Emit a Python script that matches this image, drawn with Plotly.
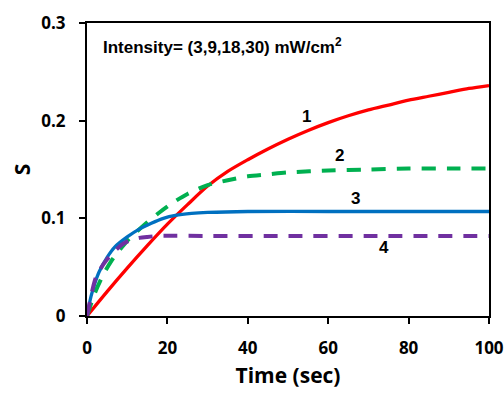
import plotly.graph_objects as go

# Curve 1 (red, solid)
t1 = [0, 5, 10, 15, 20, 25, 30, 35, 40, 45, 50, 55, 60, 65, 70, 75, 80, 85, 90, 95, 100]
s1 = [0, 0.025, 0.049, 0.072, 0.094, 0.114, 0.133, 0.148, 0.160, 0.171, 0.181, 0.190, 0.198,
      0.205, 0.211, 0.216, 0.221, 0.225, 0.229, 0.233, 0.236]
# Curve 2 (green, dashed)
t2 = [0, 2, 4, 6, 8, 10, 12, 15, 18, 21, 25, 30, 35, 40, 45, 50, 60, 70, 80, 90, 100]
s2 = [0, 0.024, 0.042, 0.056, 0.067, 0.077, 0.085, 0.096, 0.106, 0.115, 0.125, 0.134, 0.139,
      0.143, 0.145, 0.147, 0.149, 0.150, 0.151, 0.151, 0.151]
# Curve 3 (blue, solid)
t3 = [0, 1, 2, 3, 5, 7, 10, 13, 16, 19, 22, 26, 30, 40, 60, 80, 100]
s3 = [0, 0.020, 0.034, 0.045, 0.060, 0.071, 0.081, 0.089, 0.095, 0.100, 0.103, 0.105, 0.106,
      0.107, 0.107, 0.107, 0.107]
# Curve 4 (purple, dashed)
t4 = [0, 1, 2, 3, 5, 7, 9, 11, 13, 15, 18, 30, 50, 70, 100]
s4 = [0, 0.020, 0.037, 0.046, 0.058, 0.067, 0.074, 0.078, 0.080, 0.081, 0.082, 0.082, 0.082,
      0.082, 0.082]

curve_labels = ["1", "2", "3", "4"]
label_t = [54.6, 62.7, 66.7, 73.9]
label_s = [0.204, 0.164, 0.120, 0.070]

x_ticks = [0, 20, 40, 60, 80, 100]
y_ticks = [0, 0.1, 0.2, 0.3]
y_tick_text = ["0", "0.1", "0.2", "0.3"]

fig = go.Figure()
fig.add_trace(go.Scatter(x=t1, y=s1, mode="lines",
                         line=dict(color="#FF0000", width=3.3, shape="spline", smoothing=0.8)))
fig.add_trace(go.Scatter(x=t2, y=s2, mode="lines",
                         line=dict(color="#00B050", width=4, dash="14px,11px", shape="spline", smoothing=0.8)))
fig.add_trace(go.Scatter(x=t3, y=s3, mode="lines",
                         line=dict(color="#0070C0", width=3.3, shape="spline", smoothing=0.8)))
fig.add_trace(go.Scatter(x=t4, y=s4, mode="lines",
                         line=dict(color="#7030A0", width=4, dash="14px,11px", shape="spline", smoothing=0.8)))

for lab, lt, ls in zip(curve_labels, label_t, label_s):
    fig.add_annotation(x=lt, y=ls, xref="x", yref="y", text="<b>%s</b>" % lab, showarrow=False,
                       font=dict(family="Liberation Sans", size=17, color="black"))

fig.add_annotation(x=0.035, y=0.92, xref="paper", yref="paper", xanchor="left", yanchor="middle",
                   text="<b>Intensity= (3,9,18,30) mW/cm<sup>2</sup></b>", showarrow=False,
                   font=dict(family="Liberation Sans", size=17, color="black"))

fig.update_layout(
    width=504, height=394,
    margin=dict(l=87, r=15, t=23, b=78, autoexpand=False),
    paper_bgcolor="white", plot_bgcolor="white",
    showlegend=False,
    font=dict(family="Open Sans", color="black"),
)
fig.update_xaxes(
    range=[0, 100], tickvals=x_ticks, ticks="outside", ticklen=6, tickwidth=2, tickcolor="black",
    showline=True, linewidth=2, linecolor="black", mirror=True, showgrid=False, zeroline=False,
    automargin=False,
    tickfont=dict(family="Open Sans", size=17, weight="bold"), ticklabelstandoff=10,
    title=dict(text="Time (sec)", font=dict(family="Open Sans", size=21, weight="bold"), standoff=10),
)
fig.update_yaxes(
    range=[0, 0.3], tickvals=y_ticks, ticktext=y_tick_text, ticks="outside", ticklen=6, tickwidth=2,
    tickcolor="black", showline=True, linewidth=2, linecolor="black", mirror=True, showgrid=False,
    zeroline=False, automargin=False,
    tickfont=dict(family="Open Sans", size=17, weight="bold"), ticklabelstandoff=10,
    title=dict(text="S", font=dict(family="Open Sans", size=21, weight="bold"), standoff=5),
)

fig.write_html("out.html", config={"displayModeBar": False},
               post_script="document.body.style.margin='0px';document.body.style.padding='0px';")
